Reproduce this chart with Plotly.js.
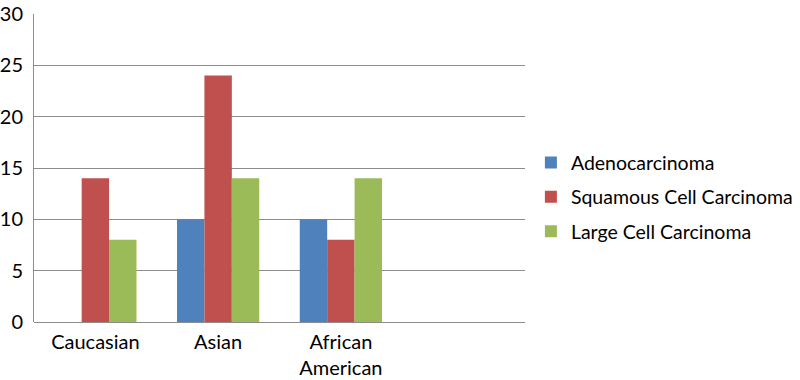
<!DOCTYPE html>
<html>
<head>
<meta charset="utf-8">
<script src="https://cdn.plot.ly/plotly-3.0.1.min.js"></script>
<style>html,body{margin:0;padding:0;background:#fff;}#chart{width:800px;height:380px;}</style>
</head>
<body>
<div id="chart"></div>
<script>
const categories = ["Caucasian", "Asian", "African<br>American", " "];
const seriesNames = ["Adenocarcinoma", "Squamous Cell Carcinoma", "Large Cell Carcinoma"];
const adenocarcinoma = [0, 10, 10, null];
const squamous = [14, 24, 8, null];
const largeCell = [8, 14, 14, null];
const yTicks = [0, 5, 10, 15, 20, 25, 30];

const colors = ["#4F81BD", "#C0504D", "#9BBB59"];
const values = [adenocarcinoma, squamous, largeCell];
const traces = values.map((v, i) => ({
  type: "bar",
  name: seriesNames[i],
  x: categories,
  y: v,
  marker: {color: colors[i]},
  legendgroup: "g" + i,
  hoverinfo: "none"
}));

const font = {family: "Lato, 'Open Sans', sans-serif", size: 20, color: "#000"};
const layout = {
  width: 800, height: 380,
  margin: {l: 34, r: 275, t: 14, b: 58, autoexpand: false},
  paper_bgcolor: "#fff", plot_bgcolor: "#fff",
  barmode: "group",
  bargap: 0.33, bargroupgap: 0,
  font: font,
  showlegend: true,
  legend: {
    x: 1.012, xanchor: "left", y: 0.405, yanchor: "middle",
    traceorder: "grouped", tracegroupgap: 6,
    font: {family: font.family, size: 19.5, color: "#000"}
  },
  xaxis: {
    type: "category",
    categoryorder: "array", categoryarray: categories,
    range: [-0.5, 3.5],
    showgrid: false, zeroline: false,
    showline: false, ticks: "",
    ticklabelstandoff: 6,
    tickfont: font,
    fixedrange: true
  },
  yaxis: {
    range: [0, 30],
    tickvals: yTicks, ticktext: yTicks.map(String),
    showgrid: true, gridcolor: "#8c8c8c", gridwidth: 1,
    zeroline: true, zerolinecolor: "#8c8c8c", zerolinewidth: 1,
    showline: true, linecolor: "#8c8c8c", linewidth: 1,
    ticks: "", ticklabelstandoff: 6,
    tickfont: font,
    fixedrange: true
  }
};

Plotly.newPlot("chart", traces, layout, {staticPlot: true});
</script>
</body>
</html>
